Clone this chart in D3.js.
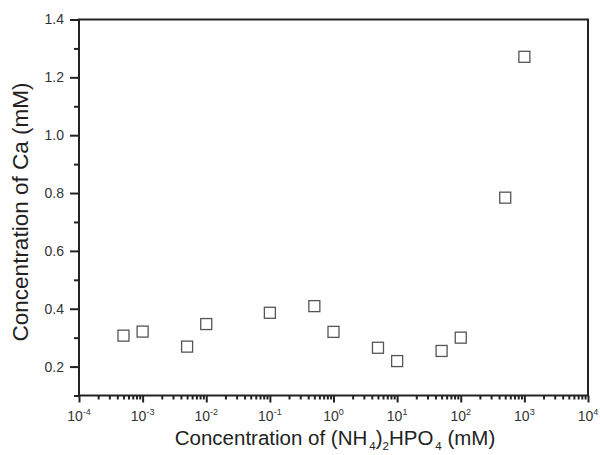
<!DOCTYPE html>
<html>
<head>
<meta charset="utf-8">
<script src="https://cdn.jsdelivr.net/npm/d3@7"></script>
<style>
  body { margin: 0; background: #fff; }
  text { font-family: "Liberation Sans", Arial, sans-serif; }
</style>
</head>
<body>
<div id="chart"></div>
<script>
// concentration of (NH4)2HPO4 in mM
const phosphate = [5e-4, 1e-3, 5e-3, 1e-2, 1e-1, 5e-1, 1, 5, 10, 50, 100, 500, 1000];
// concentration of Ca in mM
const calcium = [0.307, 0.321, 0.269, 0.347, 0.386, 0.409, 0.320, 0.265, 0.219, 0.254, 0.300, 0.784, 1.271];

const yMajor = [0.2, 0.4, 0.6, 0.8, 1.0, 1.2, 1.4];
const yMinor = [0.1, 0.3, 0.5, 0.7, 0.9, 1.1, 1.3];
const xExponents = [-4, -3, -2, -1, 0, 1, 2, 3, 4];

const width = 600, height = 455;
const margin = { top: 19.5, right: 12, bottom: 59.5, left: 79 };

const svg = d3.select("#chart").append("svg")
  .attr("width", width)
  .attr("height", height);

const x = d3.scaleLog()
  .domain([1e-4, 1e4])
  .range([margin.left, width - margin.right]);

const y = d3.scaleLinear()
  .domain([0.1, 1.4])
  .range([height - margin.bottom, margin.top]);

const axisColor = "#222";
const labelColor = "#333";

// minor x ticks (2..9 of each decade)
const xMinor = [];
xExponents.slice(0, -1).forEach(e => {
  for (let k = 2; k <= 9; k++) xMinor.push(k * Math.pow(10, e));
});

const bottom = height - margin.bottom;

svg.append("g")
  .attr("transform", `translate(0,${bottom})`)
  .call(d3.axisBottom(x).tickValues(xMinor).tickSize(4).tickFormat(""))
  .call(g => g.select(".domain").remove());

const xAxis = svg.append("g")
  .attr("transform", `translate(0,${bottom})`)
  .call(d3.axisBottom(x).tickValues(xExponents.map(e => Math.pow(10, e))).tickSize(7).tickFormat(""));
xAxis.select(".domain").remove();

// x tick labels with superscripts
xExponents.forEach(e => {
  const t = svg.append("text")
    .attr("x", x(Math.pow(10, e)))
    .attr("y", bottom + 25)
    .attr("text-anchor", "middle")
    .attr("font-size", 14)
    .attr("fill", labelColor);
  t.append("tspan").text("10");
  t.append("tspan")
    .attr("dy", -6)
    .attr("font-size", 9)
    .text(e);
});

svg.append("g")
  .attr("transform", `translate(${margin.left},0)`)
  .call(d3.axisLeft(y).tickValues(yMinor).tickSize(5).tickFormat(""))
  .call(g => g.select(".domain").remove());

const yAxis = svg.append("g")
  .attr("transform", `translate(${margin.left},0)`)
  .call(d3.axisLeft(y).tickValues(yMajor).tickSize(9).tickPadding(6).tickFormat(d3.format(".1f")));
yAxis.select(".domain").remove();
yAxis.selectAll("text").attr("font-size", 14).attr("fill", labelColor)
  .style("font-family", "'Liberation Sans', Arial, sans-serif");

svg.selectAll(".tick line").attr("stroke", axisColor).attr("stroke-width", 2);

// frame
svg.append("rect")
  .attr("x", margin.left)
  .attr("y", margin.top)
  .attr("width", width - margin.right - margin.left)
  .attr("height", bottom - margin.top)
  .attr("fill", "none")
  .attr("stroke", axisColor)
  .attr("stroke-width", 2);

// points
const size = 11;
svg.append("g").selectAll("rect")
  .data(phosphate.map((p, i) => ({ p, c: calcium[i] })))
  .join("rect")
  .attr("x", d => x(d.p) - size / 2)
  .attr("y", d => y(d.c) - size / 2)
  .attr("width", size)
  .attr("height", size)
  .attr("fill", "none")
  .attr("stroke", "#555")
  .attr("stroke-width", 1.3);

// axis titles
const xt = svg.append("text")
  .attr("x", 335)
  .attr("y", 445)
  .attr("text-anchor", "middle")
  .attr("font-size", 20.5)
  .attr("fill", "#222");
xt.append("tspan").text("Concentration of (NH");
xt.append("tspan").attr("dx", 2).attr("dy", 4.5).attr("font-size", 11.5).text("4");
xt.append("tspan").attr("dy", -4.5).text(")");
xt.append("tspan").attr("dy", 4.5).attr("font-size", 11.5).text("2");
xt.append("tspan").attr("dy", -4.5).text("HPO");
xt.append("tspan").attr("dx", 2).attr("dy", 4.5).attr("font-size", 11.5).text("4");
xt.append("tspan").attr("dy", -4.5).text(" (mM)");

svg.append("text")
  .attr("transform", `translate(28,212) rotate(-90)`)
  .attr("text-anchor", "middle")
  .attr("font-size", 22.5)
  .attr("fill", "#222")
  .text("Concentration of Ca (mM)");
</script>
</body>
</html>
